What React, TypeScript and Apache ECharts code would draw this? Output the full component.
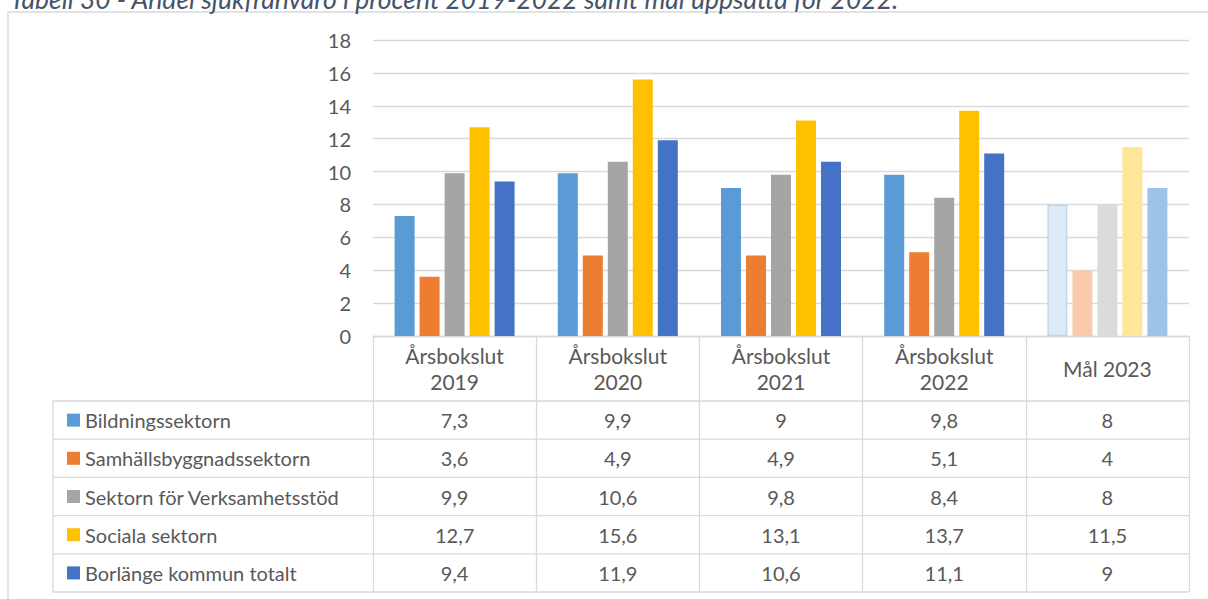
import React, { useEffect, useRef } from "react";
import * as echarts from "echarts";

const categories = ["Årsbokslut\n2019", "Årsbokslut\n2020", "Årsbokslut\n2021", "Årsbokslut\n2022", "Mål 2023"];
const seriesNames = [
  "Bildningssektorn",
  "Samhällsbyggnadssektorn",
  "Sektorn för Verksamhetsstöd",
  "Sociala sektorn",
  "Borlänge kommun totalt",
];
const bildning = [7.3, 9.9, 9, 9.8, 8];
const samhalls = [3.6, 4.9, 4.9, 5.1, 4];
const verksamhet = [9.9, 10.6, 9.8, 8.4, 8];
const sociala = [12.7, 15.6, 13.1, 13.7, 11.5];
const borlange = [9.4, 11.9, 10.6, 11.1, 9];
const seriesValues = [bildning, samhalls, verksamhet, sociala, borlange];
const colors = ["#5B9BD5", "#ED7D31", "#A5A5A5", "#FFC000", "#4472C4"];
const goalColors = ["#DEEBF7", "#F8CBAD", "#DBDBDB", "#FFE699", "#9DC3E6"];
const goalBorders = ["#BDD7EE", null, null, null, null];
const yMin = 0;
const yMax = 18;
const yStep = 2;
const titleText = "Tabell 30 - Andel sjukfrånvaro i procent 2019-2022 samt mål uppsatta för 2022.";

const W = 1208;
const H = 599;
const FONT = "Lato, 'Open Sans', sans-serif";
const TXT = "#595959";
const LINE = "#D9D9D9";
const plotLeft = 373;
const plotRight = 1189;
const plotTop = 40;
const axisY = 336;
const headerBottom = 401;
const rowH = 38.2;
const tableLeft = 53;
const tableBottom = headerBottom + rowH * seriesValues.length;

const fmt = (v: number) => String(v).replace(".", ",");

export default function App() {
  const ref = useRef<HTMLDivElement>(null);
  useEffect(() => {
    if (!ref.current) return;
    const chart = echarts.init(ref.current, null, { renderer: "svg" });
    const lastIdx = categories.length - 1;

    const series = seriesValues.map((vals, k) => ({
      name: seriesNames[k],
      type: "bar",
      xAxisIndex: 0,
      yAxisIndex: 0,
      barWidth: 20,
      barGap: "25%",
      itemStyle: { color: colors[k] },
      data: vals.map((v, i) =>
        i === lastIdx
          ? {
              value: v,
              itemStyle: {
                color: goalColors[k],
                borderColor: goalBorders[k] || goalColors[k],
                borderWidth: goalBorders[k] ? 1.5 : 0,
              },
            }
          : v
      ),
    }));

    const tableAxes = seriesValues.map((vals, k) => ({
      type: "category",
      gridIndex: 0,
      position: "bottom",
      offset: headerBottom + rowH * (k + 0.5) - axisY,
      data: categories,
      axisLine: { show: false },
      axisTick: { show: false },
      splitLine: { show: false },
      axisLabel: {
        interval: 0,
        margin: 0,
        verticalAlign: "middle",
        fontSize: 20,
        fontFamily: FONT,
        color: TXT,
        formatter: (_: string, i: number) => fmt(vals[i]),
      },
    }));

    const hLines = [];
    for (let k = 0; k <= seriesValues.length; k++) {
      const y = headerBottom + rowH * k;
      hLines.push({
        type: "line",
        shape: { x1: tableLeft, y1: y, x2: plotRight, y2: y },
        style: { stroke: LINE, lineWidth: 1.3 },
        silent: true,
      });
    }

    chart.setOption({
      animation: false,
      title: {
        text: titleText,
        left: 10,
        top: -15,
        padding: 0,
        textStyle: {
          fontStyle: "italic",
          fontWeight: "normal",
          fontSize: 26.5,
          fontFamily: FONT,
          color: "#44546A",
        },
      },
      legend: {
        orient: "vertical",
        left: 62,
        top: headerBottom + rowH / 2 - 15,
        itemWidth: 13,
        itemHeight: 13,
        itemGap: rowH - 20,
        icon: "rect",
        selectedMode: false,
        data: seriesNames,
        textStyle: { fontSize: 20, fontFamily: FONT, color: TXT, lineHeight: 20 },
      },
      grid: {
        left: plotLeft,
        right: W - plotRight,
        top: plotTop,
        bottom: H - axisY,
        containLabel: false,
      },
      xAxis: [
        {
          type: "category",
          gridIndex: 0,
          position: "bottom",
          data: categories,
          axisLine: { show: true, lineStyle: { color: LINE, width: 1.3 } },
          axisTick: {
            show: true,
            interval: 0,
            alignWithLabel: false,
            length: tableBottom - axisY,
            lineStyle: { color: LINE, width: 1.3 },
          },
          splitLine: { show: false },
          axisLabel: {
            interval: 0,
            margin: (headerBottom - axisY) / 2,
            verticalAlign: "middle",
            lineHeight: 26,
            fontSize: 21,
            fontFamily: FONT,
            color: TXT,
          },
        },
        ...tableAxes,
      ],
      yAxis: {
        type: "value",
        min: yMin,
        max: yMax,
        interval: yStep,
        axisLine: { show: false },
        axisTick: { show: false },
        splitLine: { lineStyle: { color: LINE, width: 1.3 } },
        axisLabel: { fontSize: 20, fontFamily: FONT, color: TXT, margin: 22 },
      },
      graphic: [
        {
          type: "rect",
          shape: { x: 8, y: 12, width: W + 20, height: H + 20 },
          style: { fill: "none", stroke: LINE, lineWidth: 1.3 },
          silent: true,
          z: -1,
        },
        ...hLines,
        {
          type: "line",
          shape: { x1: tableLeft, y1: headerBottom, x2: tableLeft, y2: tableBottom },
          style: { stroke: LINE, lineWidth: 1.3 },
          silent: true,
        },
      ],
      series,
    });
    return () => chart.dispose();
  }, []);

  return (
    <div style={{ position: "absolute", left: 0, top: 0, width: W, height: H, background: "#fff", overflow: "hidden" }}>
      <div ref={ref} style={{ width: W, height: H }} />
    </div>
  );
}
